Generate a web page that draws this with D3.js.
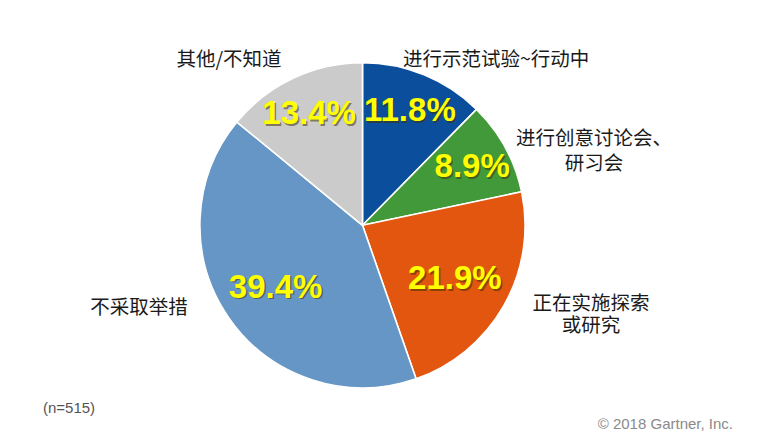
<!DOCTYPE html>
<html>
<head>
<meta charset="utf-8">
<script src="https://cdn.jsdelivr.net/npm/d3@7"></script>
<style>
  html, body { margin: 0; padding: 0; background: #fff; }
  svg { display: block; }
</style>
</head>
<body>
<svg id="chart" width="766" height="439"></svg>
<script>
// ---- data ----
const categories = ["进行示范试验~行动中", "进行创意讨论会、\n研习会", "正在实施探索\n或研究", "不采取举措", "其他/不知道"];
const values = [11.8, 8.9, 21.9, 39.4, 13.4];
const valueLabels = ["11.8%", "8.9%", "21.9%", "39.4%", "13.4%"];
const colors = ["#0b4f9c", "#41993a", "#e3560f", "#6596c5", "#cbcbcb"];
const sampleNote = "(n=515)";
const copyright = "© 2018 Gartner, Inc.";

// ---- layout ----
const W = 766, H = 439;
const cx = 362.5, cy = 225.3, R = 162.6;
const svg = d3.select("#chart");
const g = svg.append("g").attr("transform", `translate(${cx},${cy})`);

const pie = d3.pie().sort(null).value(d => d.value);
const data = pie(values.map((v, i) => ({ value: v, i })));
const arc = d3.arc().innerRadius(0).outerRadius(R);

g.selectAll("path.slice")
  .data(data)
  .enter().append("path")
  .attr("class", "slice")
  .attr("d", arc)
  .attr("fill", d => colors[d.data.i])
  .attr("stroke", "#fff")
  .attr("stroke-width", 1.6)
  .attr("stroke-linejoin", "round");

// percentage labels at arc centroid (radius depends on slice size)
const pctSize = 33;
function labelPos(d) {
  const span = d.endAngle - d.startAngle;
  const r = span > Math.PI / 3 ? 106 : 125;
  const a = (d.startAngle + d.endAngle) / 2;
  return [Math.sin(a) * r, -Math.cos(a) * r];
}
const pctG = g.selectAll("g.pct").data(data).enter().append("g").attr("class", "pct")
  .attr("transform", d => { const p = labelPos(d); return `translate(${p[0]},${p[1] + pctSize * 0.36})`; });
pctG.append("text")
  .attr("x", 1.5).attr("y", 1.5)
  .attr("text-anchor", "middle")
  .attr("font-family", "Liberation Sans, Arial, sans-serif")
  .attr("font-weight", "bold")
  .attr("font-size", pctSize)
  .attr("fill", "rgba(60,50,0,0.55)")
  .text(d => valueLabels[d.data.i]);
pctG.append("text")
  .attr("text-anchor", "middle")
  .attr("font-family", "Liberation Sans, Arial, sans-serif")
  .attr("font-weight", "bold")
  .attr("font-size", pctSize)
  .attr("fill", "#ffff00")
  .text(d => valueLabels[d.data.i]);

// category labels
const catFont = "'Noto Sans CJK SC', 'Noto Sans', sans-serif";
const catPlacement = [
  { x: 403, y: 57, anchor: "start", lh: 0 },
  { x: 594, y: 136, anchor: "middle", lh: 25 },
  { x: 591, y: 301.5, anchor: "middle", lh: 22 },
  { x: 139, y: 305, anchor: "middle", lh: 0 },
  { x: 229, y: 57, anchor: "middle", lh: 0 }
];
categories.forEach((c, i) => {
  const p = catPlacement[i];
  const lines = c.split("\n");
  const t = svg.append("text")
    .attr("text-anchor", p.anchor)
    .attr("font-family", catFont)
    .attr("font-size", 19.5)
    .attr("fill", "#1a1a1a");
  lines.forEach((ln, k) => {
    t.append("tspan")
      .attr("x", p.x)
      .attr("y", p.y + k * p.lh)
      .attr("dominant-baseline", "central")
      .text(ln);
  });
});

// footnotes
svg.append("text")
  .attr("x", 43).attr("y", 407)
  .attr("dominant-baseline", "central")
  .attr("font-family", "Liberation Sans, Arial, sans-serif")
  .attr("font-size", 15)
  .attr("fill", "#555")
  .text(sampleNote);
svg.append("text")
  .attr("x", 733).attr("y", 423)
  .attr("text-anchor", "end")
  .attr("dominant-baseline", "central")
  .attr("font-family", "Liberation Sans, Arial, sans-serif")
  .attr("font-size", 15)
  .attr("fill", "#8a8a8a")
  .text(copyright);
</script>
</body>
</html>
